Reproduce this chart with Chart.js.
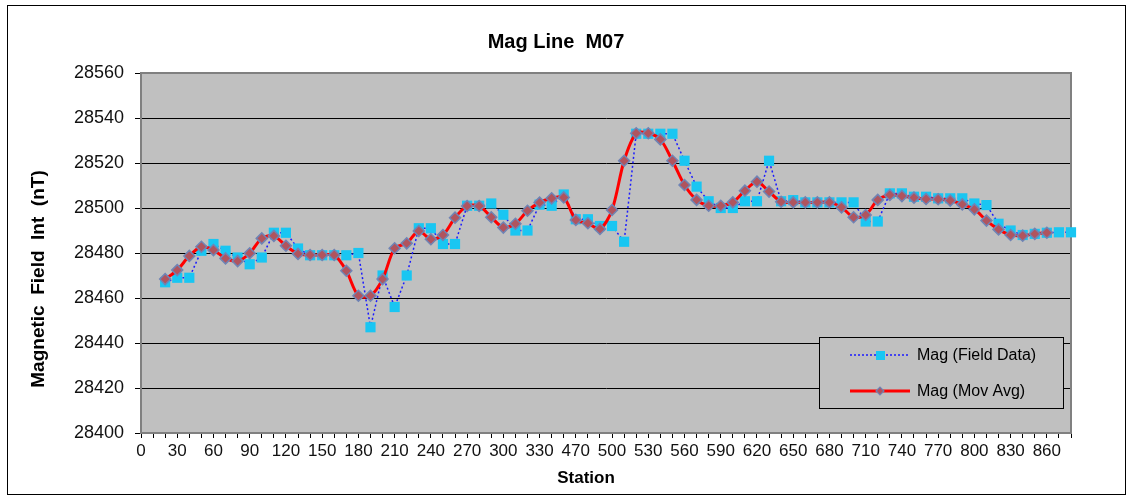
<!DOCTYPE html>
<html>
<head>
<meta charset="utf-8">
<script src="https://cdn.jsdelivr.net/npm/chart.js@4.4.1/dist/chart.umd.min.js"></script>
<style>
  html, body { margin: 0; padding: 0; background: #fff; }
  #wrap { width: 1133px; height: 500px; position: relative; }
  canvas { display: block; }
</style>
</head>
<body>
<div id="wrap"><canvas id="c" width="1133" height="500"></canvas></div>
<script>
// ---- Data ----
const chartTitle = 'Mag Line  M07';
const xAxisTitle = 'Station';
const yAxisTitle = 'Magnetic  Field  Int  (nT)';
const seriesNames = ['Mag (Field Data)', 'Mag (Mov Avg)'];

const stations = [0,10,20,30,40,50,60,70,80,90,100,110,120,130,140,150,160,170,180,190,
  200,210,220,230,240,250,260,270,280,290,300,310,320,330,450,460,470,480,490,500,
  510,520,530,540,550,560,570,580,590,600,610,620,630,640,650,660,670,680,690,700,
  710,720,730,740,750,760,770,780,790,800,810,820,830,840,850,860,870,880];

const fieldData = [null,null,28467,28469,28469,28481,28484,28481,28478,28475,
  28478,28489,28489,28482,28479,28479,28479,28479,28480,28447,
  28470,28456,28470,28491,28491,28484,28484,28501,28501,28502,
  28497,28490,28490,28501.5,28501,28506,28495,28495,28492,28492,
  28485,28533,28533,28533,28533,28521,28509.5,28503,28500,28500,
  28503,28503,28521,28503,28503.5,28502.5,28502.5,28502.5,28502.5,28502.5,
  28494,28494,28506.5,28506.5,28505,28505,28504.3,28504.3,28504.3,28502,
  28501.3,28493,28490,28488,28488.5,28489,28489.2,28489.2];

const movAvg = [null,null,28468.4,28472.4,28478.7,28482.8,28481.3,28477.6,28476.4,28479.9,
  28486.5,28487.6,28483.2,28479.6,28479.1,28479.1,28479.1,28472.1,28461,28461,
  28468.4,28482.1,28484.3,28489.8,28486.1,28488,28495.7,28500.9,28500.9,28495.9,
  28491.3,28493,28498.8,28502.4,28504.3,28504.7,28494.7,28493.2,28490.7,28499.1,
  28521,28533.2,28533.2,28530.5,28521,28510.2,28503.6,28501,28501,28502.5,
  28507.7,28511.7,28507.3,28502.8,28502.5,28502.5,28502.5,28502.5,28500.3,28495.9,
  28496.9,28503.6,28505.8,28505.3,28504.6,28504,28503.9,28503.3,28501.6,28499.4,
  28494.4,28490.5,28488,28487.7,28488.5,28489,null,null];

const yMin = 28400, yMax = 28560, yStep = 20;
const labelEvery = 3;

// ---- Styles ----
const FONT = '"Liberation Sans", Arial, sans-serif';
const cyan = '#19C6F2';
const blue = '#1a1aff';
const red = '#FF0000';
const diamondFill = '#B0545E';
const diamondEdge = '#6F84B5';
const plotBg = '#C0C0C0';

const decor = {
  id: 'decor',
  beforeDraw(chart) {
    const { ctx, chartArea: a } = chart;
    ctx.save();
    ctx.fillStyle = '#fff';
    ctx.fillRect(0, 0, chart.width, chart.height);
    ctx.fillStyle = plotBg;
    ctx.fillRect(a.left, a.top, a.right - a.left, a.bottom - a.top);
    ctx.restore();
  },
  beforeDatasetsDraw(chart) {
    const { ctx, chartArea: a } = chart;
    ctx.save();
    ctx.strokeStyle = '#808080';
    ctx.lineWidth = 2;
    ctx.beginPath();
    ctx.moveTo(a.left, a.top); ctx.lineTo(a.right, a.top); ctx.lineTo(a.right, a.bottom);
    ctx.stroke();
    ctx.restore();
  },
  afterDraw(chart) {
    const { ctx } = chart;
    ctx.save();
    // outer frame
    ctx.strokeStyle = '#000';
    ctx.lineWidth = 1;
    ctx.strokeRect(7.5, 5.5, 1118, 489);
    // title
    ctx.fillStyle = '#000';
    ctx.textAlign = 'center';
    ctx.textBaseline = 'middle';
    ctx.font = 'bold 20px ' + FONT;
    ctx.fillText(chartTitle, 556, 42);
    // x axis title
    ctx.font = 'bold 17px ' + FONT;
    ctx.fillText(xAxisTitle, 586, 478);
    // y axis title
    ctx.save();
    ctx.translate(39, 279);
    ctx.rotate(-Math.PI / 2);
    ctx.font = 'bold 19px ' + FONT;
    ctx.fillText(yAxisTitle, 0, 0);
    ctx.restore();
    // legend
    const lx = 819.5, ly = 337.5, lw = 244, lh = 71;
    ctx.fillStyle = plotBg;
    ctx.fillRect(lx, ly, lw, lh);
    ctx.strokeStyle = '#000';
    ctx.lineWidth = 1;
    ctx.strokeRect(lx, ly, lw, lh);
    // entry 1
    ctx.strokeStyle = blue;
    ctx.lineWidth = 1.5;
    ctx.setLineDash([2, 2]);
    ctx.beginPath(); ctx.moveTo(850, 355); ctx.lineTo(910, 355); ctx.stroke();
    ctx.setLineDash([]);
    ctx.fillStyle = cyan;
    ctx.fillRect(876, 351, 9, 9);
    // entry 2
    ctx.strokeStyle = red;
    ctx.lineWidth = 3;
    ctx.beginPath(); ctx.moveTo(850, 391); ctx.lineTo(910, 391); ctx.stroke();
    ctx.beginPath();
    ctx.moveTo(876, 391); ctx.lineTo(880, 387); ctx.lineTo(884, 391); ctx.lineTo(880, 395); ctx.closePath();
    ctx.fillStyle = diamondFill; ctx.fill();
    ctx.strokeStyle = diamondEdge; ctx.lineWidth = 1.2; ctx.stroke();
    ctx.fillStyle = '#000';
    ctx.textAlign = 'left';
    ctx.font = '16px ' + FONT;
    ctx.fillText(seriesNames[0], 917, 356);
    ctx.fillText(seriesNames[1], 917, 392);
    ctx.restore();
  }
};

new Chart(document.getElementById('c'), {
  type: 'line',
  data: {
    labels: stations.map(String),
    datasets: [
      {
        label: seriesNames[0],
        data: fieldData,
        order: 2,
        borderColor: blue,
        borderWidth: 1.5,
        borderDash: [2, 2.5],
        tension: 0,
        pointStyle: 'rect',
        pointRadius: 7.2,
        pointBackgroundColor: cyan,
        pointBorderColor: cyan,
        pointBorderWidth: 0,
        clip: false,
        spanGaps: false
      },
      {
        label: seriesNames[1],
        data: movAvg,
        order: 1,
        borderColor: red,
        borderWidth: 3,
        tension: 0.3,
        pointStyle: 'rectRot',
        pointRadius: 5.5,
        pointBackgroundColor: diamondFill,
        pointBorderColor: diamondEdge,
        pointBorderWidth: 1.5,
        clip: false
      }
    ]
  },
  options: {
    responsive: false,
    devicePixelRatio: 1,
    animation: false,
    events: [],
    layout: { padding: { top: 73, right: 62, left: 0, bottom: 0 } },
    plugins: {
      legend: { display: false },
      title: { display: false },
      tooltip: { enabled: false }
    },
    scales: {
      x: {
        type: 'category',
        offset: false,
        afterFit: (s) => { s.height = 67; },
        grid: {
          display: true,
          drawOnChartArea: false,
          drawTicks: true,
          tickLength: 5,
          tickColor: '#000',
          tickWidth: 1
        },
        border: { display: true, color: '#808080', width: 2 },
        ticks: {
          autoSkip: false,
          maxRotation: 0,
          minRotation: 0,
          padding: 3,
          color: '#111',
          font: { family: FONT, size: 17 },
          callback: function (value, index) {
            return index % labelEvery === 0 ? this.getLabelForValue(value) : '';
          }
        }
      },
      y: {
        min: yMin,
        max: yMax,
        afterFit: (s) => { s.width = 141; },
        grid: {
          color: (c) => (c.tick && c.tick.value === yMax) ? '#808080' : '#000',
          lineWidth: 1,
          tickLength: 6,
          tickColor: '#000'
        },
        border: { display: true, color: '#808080', width: 2 },
        ticks: {
          stepSize: yStep,
          padding: 11,
          color: '#111',
          font: { family: FONT, size: 18 },
          callback: (v) => String(v)
        }
      }
    }
  },
  plugins: [decor]
});
</script>
</body>
</html>
